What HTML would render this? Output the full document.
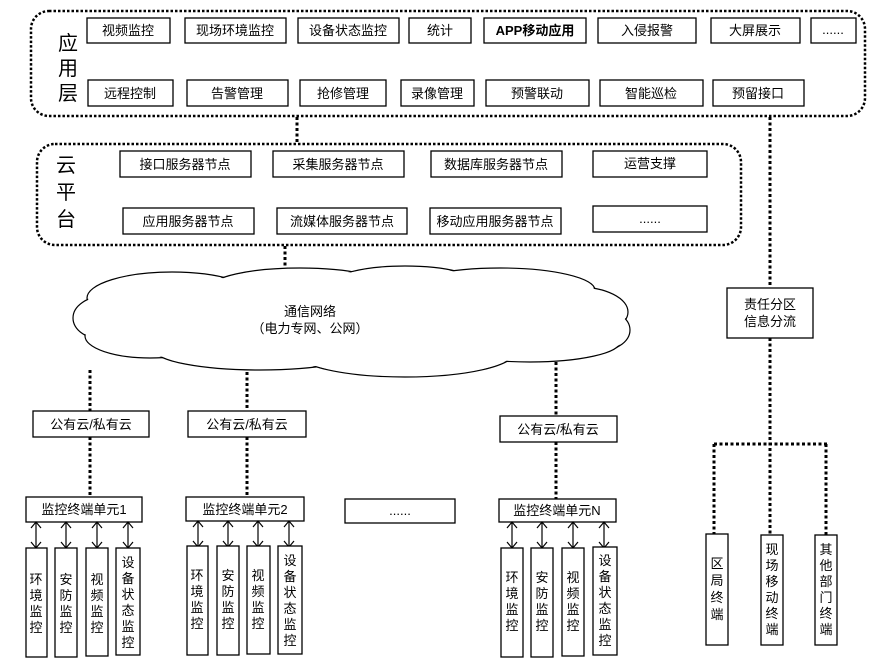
<!DOCTYPE html>
<html><head><meta charset="utf-8"><style>
html,body{margin:0;padding:0;background:#fff;}
svg{display:block;}
text{font-family:"Liberation Sans","Noto Sans CJK SC",sans-serif;font-size:13px;fill:#000;}
.b{fill:#fff;stroke:#000;stroke-width:1.3;}
.d{fill:none;stroke:#000;stroke-width:3;stroke-dasharray:3 2.5;}
.dc{fill:none;stroke:#000;stroke-width:2.5;stroke-dasharray:2.5 2;}
.a{stroke:#000;stroke-width:1.2;fill:none;}
.big{font-size:20px;}
</style></head><body>
<svg width="875" height="668" viewBox="0 0 875 668" xmlns="http://www.w3.org/2000/svg">
<rect class="dc" x="31" y="11" width="834" height="105" rx="18"/>
<rect class="dc" x="37" y="144" width="704" height="101" rx="18"/>
<text class="big" x="58" y="50">应</text><text class="big" x="58" y="75">用</text><text class="big" x="58" y="100">层</text>
<text class="big" x="56" y="172">云</text><text class="big" x="56" y="199">平</text><text class="big" x="56" y="226">台</text>

<g text-anchor="middle">
<rect class="b" x="87" y="18" width="83" height="25"/><text x="128" y="35">视频监控</text>
<rect class="b" x="185" y="18" width="101" height="25"/><text x="235" y="35">现场环境监控</text>
<rect class="b" x="298" y="18" width="101" height="25"/><text x="348" y="35">设备状态监控</text>
<rect class="b" x="409" y="18" width="62" height="25"/><text x="440" y="35">统计</text>
<rect class="b" x="484" y="18" width="102" height="25"/><text x="535" y="35" style="font-weight:bold">APP移动应用</text>
<rect class="b" x="598" y="18" width="98" height="25"/><text x="647" y="35">入侵报警</text>
<rect class="b" x="711" y="18" width="89" height="25"/><text x="755" y="35">大屏展示</text>
<rect class="b" x="811" y="18" width="45" height="25"/><text x="833" y="34">......</text>
<rect class="b" x="88" y="80" width="85" height="26"/><text x="130" y="98">远程控制</text>
<rect class="b" x="187" y="80" width="101" height="26"/><text x="237" y="98">告警管理</text>
<rect class="b" x="300" y="80" width="86" height="26"/><text x="343" y="98">抢修管理</text>
<rect class="b" x="401" y="80" width="73" height="26"/><text x="437" y="98">录像管理</text>
<rect class="b" x="486" y="80" width="103" height="26"/><text x="537" y="98">预警联动</text>
<rect class="b" x="600" y="80" width="103" height="26"/><text x="651" y="98">智能巡检</text>
<rect class="b" x="713" y="80" width="91" height="26"/><text x="758" y="98">预留接口</text>
<rect class="b" x="120" y="151" width="131" height="26"/><text x="185" y="169">接口服务器节点</text>
<rect class="b" x="273" y="151" width="131" height="26"/><text x="338" y="169">采集服务器节点</text>
<rect class="b" x="431" y="151" width="131" height="26"/><text x="496" y="169">数据库服务器节点</text>
<rect class="b" x="593" y="151" width="114" height="26"/><text x="650" y="168">运营支撑</text>
<rect class="b" x="123" y="208" width="131" height="26"/><text x="188" y="226">应用服务器节点</text>
<rect class="b" x="277" y="208" width="130" height="26"/><text x="342" y="226">流媒体服务器节点</text>
<rect class="b" x="430" y="208" width="131" height="26"/><text x="495" y="226">移动应用服务器节点</text>
<rect class="b" x="593" y="206" width="114" height="26"/><text x="650" y="223">......</text>
</g>

<line class="d" x1="297" y1="117" x2="297" y2="143"/>
<line class="d" x1="285" y1="246" x2="285" y2="270"/>
<line class="d" x1="770" y1="117" x2="770" y2="288"/>

<g stroke="#000" stroke-width="1.2" fill="#fff">
<ellipse cx="172" cy="298" rx="85" ry="26"/>
<ellipse cx="300" cy="288" rx="90" ry="20"/>
<ellipse cx="405" cy="285" rx="75" ry="19"/>
<ellipse cx="500" cy="290" rx="95" ry="22"/>
<ellipse cx="578" cy="312" rx="50" ry="25"/>
<ellipse cx="596" cy="330" rx="34" ry="22"/>
<ellipse cx="105" cy="318" rx="32" ry="22"/>
<ellipse cx="150" cy="336" rx="65" ry="22"/>
<ellipse cx="260" cy="350" rx="105" ry="20"/>
<ellipse cx="405" cy="352" rx="110" ry="25"/>
<ellipse cx="530" cy="342" rx="90" ry="20"/>
</g>
<g fill="#fff">
<ellipse cx="172" cy="298" rx="84" ry="25"/>
<ellipse cx="300" cy="288" rx="89" ry="19"/>
<ellipse cx="405" cy="285" rx="74" ry="18"/>
<ellipse cx="500" cy="290" rx="94" ry="21"/>
<ellipse cx="578" cy="312" rx="49" ry="24"/>
<ellipse cx="596" cy="330" rx="33" ry="21"/>
<ellipse cx="105" cy="318" rx="31" ry="21"/>
<ellipse cx="150" cy="336" rx="64" ry="21"/>
<ellipse cx="260" cy="350" rx="104" ry="19"/>
<ellipse cx="405" cy="352" rx="109" ry="24"/>
<ellipse cx="530" cy="342" rx="89" ry="19"/>
<ellipse cx="350" cy="320" rx="250" ry="38"/>
</g>
<text x="310" y="316" text-anchor="middle">通信网络</text>
<text x="310" y="333" text-anchor="middle">（电力专网、公网）</text>

<line class="d" x1="90" y1="370" x2="90" y2="411"/>
<line class="d" x1="90" y1="437" x2="90" y2="497"/>
<line class="d" x1="247" y1="372" x2="247" y2="411"/>
<line class="d" x1="247" y1="437" x2="247" y2="497"/>
<line class="d" x1="556" y1="362" x2="556" y2="416"/>
<line class="d" x1="556" y1="442" x2="556" y2="499"/>

<g text-anchor="middle">
<rect class="b" x="33" y="411" width="116" height="26"/><text x="91" y="429">公有云/私有云</text>
<rect class="b" x="188" y="411" width="118" height="26"/><text x="247" y="429">公有云/私有云</text>
<rect class="b" x="500" y="416" width="117" height="26"/><text x="558" y="434">公有云/私有云</text>
<rect class="b" x="26" y="497" width="116" height="25"/><text x="84" y="514">监控终端单元1</text>
<rect class="b" x="186" y="497" width="118" height="24"/><text x="245" y="514">监控终端单元2</text>
<rect class="b" x="345" y="499" width="110" height="24"/><text x="400" y="515">......</text>
<rect class="b" x="499" y="499" width="117" height="23"/><text x="557" y="515">监控终端单元N</text>
</g>

<defs><g id="ar"><line class="a" x1="0" y1="1" x2="0" y2="25"/><polyline class="a" points="-5,6 0,0 5,6"/><polyline class="a" points="-5,20 0,26 5,20"/></g></defs>
<use href="#ar" x="36" y="522"/><use href="#ar" x="66" y="522"/><use href="#ar" x="97" y="522"/><use href="#ar" x="128" y="522"/>
<use href="#ar" x="198" y="521"/><use href="#ar" x="228" y="521"/><use href="#ar" x="258" y="521"/><use href="#ar" x="289" y="521"/>
<use href="#ar" x="512" y="522"/><use href="#ar" x="542" y="522"/><use href="#ar" x="573" y="522"/><use href="#ar" x="604" y="522"/>

<g text-anchor="middle">
<rect class="b" x="26" y="548" width="21" height="109"/><text><tspan x="36" y="584">环</tspan><tspan x="36" dy="16">境</tspan><tspan x="36" dy="16">监</tspan><tspan x="36" dy="16">控</tspan></text>
<rect class="b" x="55" y="548" width="22" height="109"/><text><tspan x="66" y="584">安</tspan><tspan x="66" dy="16">防</tspan><tspan x="66" dy="16">监</tspan><tspan x="66" dy="16">控</tspan></text>
<rect class="b" x="86" y="548" width="22" height="108"/><text><tspan x="97" y="584">视</tspan><tspan x="97" dy="16">频</tspan><tspan x="97" dy="16">监</tspan><tspan x="97" dy="16">控</tspan></text>
<rect class="b" x="116" y="548" width="24" height="107"/><text><tspan x="128" y="567">设</tspan><tspan x="128" dy="16">备</tspan><tspan x="128" dy="16">状</tspan><tspan x="128" dy="16">态</tspan><tspan x="128" dy="16">监</tspan><tspan x="128" dy="16">控</tspan></text>
<rect class="b" x="187" y="546" width="21" height="109"/><text><tspan x="197" y="580">环</tspan><tspan x="197" dy="16">境</tspan><tspan x="197" dy="16">监</tspan><tspan x="197" dy="16">控</tspan></text>
<rect class="b" x="217" y="546" width="22" height="109"/><text><tspan x="228" y="580">安</tspan><tspan x="228" dy="16">防</tspan><tspan x="228" dy="16">监</tspan><tspan x="228" dy="16">控</tspan></text>
<rect class="b" x="247" y="546" width="23" height="108"/><text><tspan x="258" y="580">视</tspan><tspan x="258" dy="16">频</tspan><tspan x="258" dy="16">监</tspan><tspan x="258" dy="16">控</tspan></text>
<rect class="b" x="278" y="546" width="24" height="108"/><text><tspan x="290" y="565">设</tspan><tspan x="290" dy="16">备</tspan><tspan x="290" dy="16">状</tspan><tspan x="290" dy="16">态</tspan><tspan x="290" dy="16">监</tspan><tspan x="290" dy="16">控</tspan></text>
<rect class="b" x="501" y="548" width="22" height="109"/><text><tspan x="512" y="582">环</tspan><tspan x="512" dy="16">境</tspan><tspan x="512" dy="16">监</tspan><tspan x="512" dy="16">控</tspan></text>
<rect class="b" x="531" y="548" width="22" height="109"/><text><tspan x="542" y="582">安</tspan><tspan x="542" dy="16">防</tspan><tspan x="542" dy="16">监</tspan><tspan x="542" dy="16">控</tspan></text>
<rect class="b" x="562" y="548" width="22" height="108"/><text><tspan x="573" y="582">视</tspan><tspan x="573" dy="16">频</tspan><tspan x="573" dy="16">监</tspan><tspan x="573" dy="16">控</tspan></text>
<rect class="b" x="593" y="547" width="24" height="108"/><text><tspan x="605" y="565">设</tspan><tspan x="605" dy="16">备</tspan><tspan x="605" dy="16">状</tspan><tspan x="605" dy="16">态</tspan><tspan x="605" dy="16">监</tspan><tspan x="605" dy="16">控</tspan></text>

<rect class="b" x="727" y="288" width="86" height="50"/><text x="770" y="309">责任分区</text><text x="770" y="326">信息分流</text>
<line class="d" x1="770" y1="338" x2="770" y2="535"/>
<line class="d" x1="714" y1="444" x2="827" y2="444"/>
<line class="d" x1="714" y1="444" x2="714" y2="534"/>
<line class="d" x1="826" y1="444" x2="826" y2="535"/>
<rect class="b" x="706" y="534" width="22" height="111"/><text><tspan x="717" y="568">区</tspan><tspan x="717" dy="17">局</tspan><tspan x="717" dy="17">终</tspan><tspan x="717" dy="17">端</tspan></text>
<rect class="b" x="761" y="535" width="22" height="110"/><text><tspan x="772" y="554">现</tspan><tspan x="772" dy="16">场</tspan><tspan x="772" dy="16">移</tspan><tspan x="772" dy="16">动</tspan><tspan x="772" dy="16">终</tspan><tspan x="772" dy="16">端</tspan></text>
<rect class="b" x="815" y="535" width="22" height="110"/><text><tspan x="826" y="554">其</tspan><tspan x="826" dy="16">他</tspan><tspan x="826" dy="16">部</tspan><tspan x="826" dy="16">门</tspan><tspan x="826" dy="16">终</tspan><tspan x="826" dy="16">端</tspan></text>
</g>
</svg>
</body></html>
